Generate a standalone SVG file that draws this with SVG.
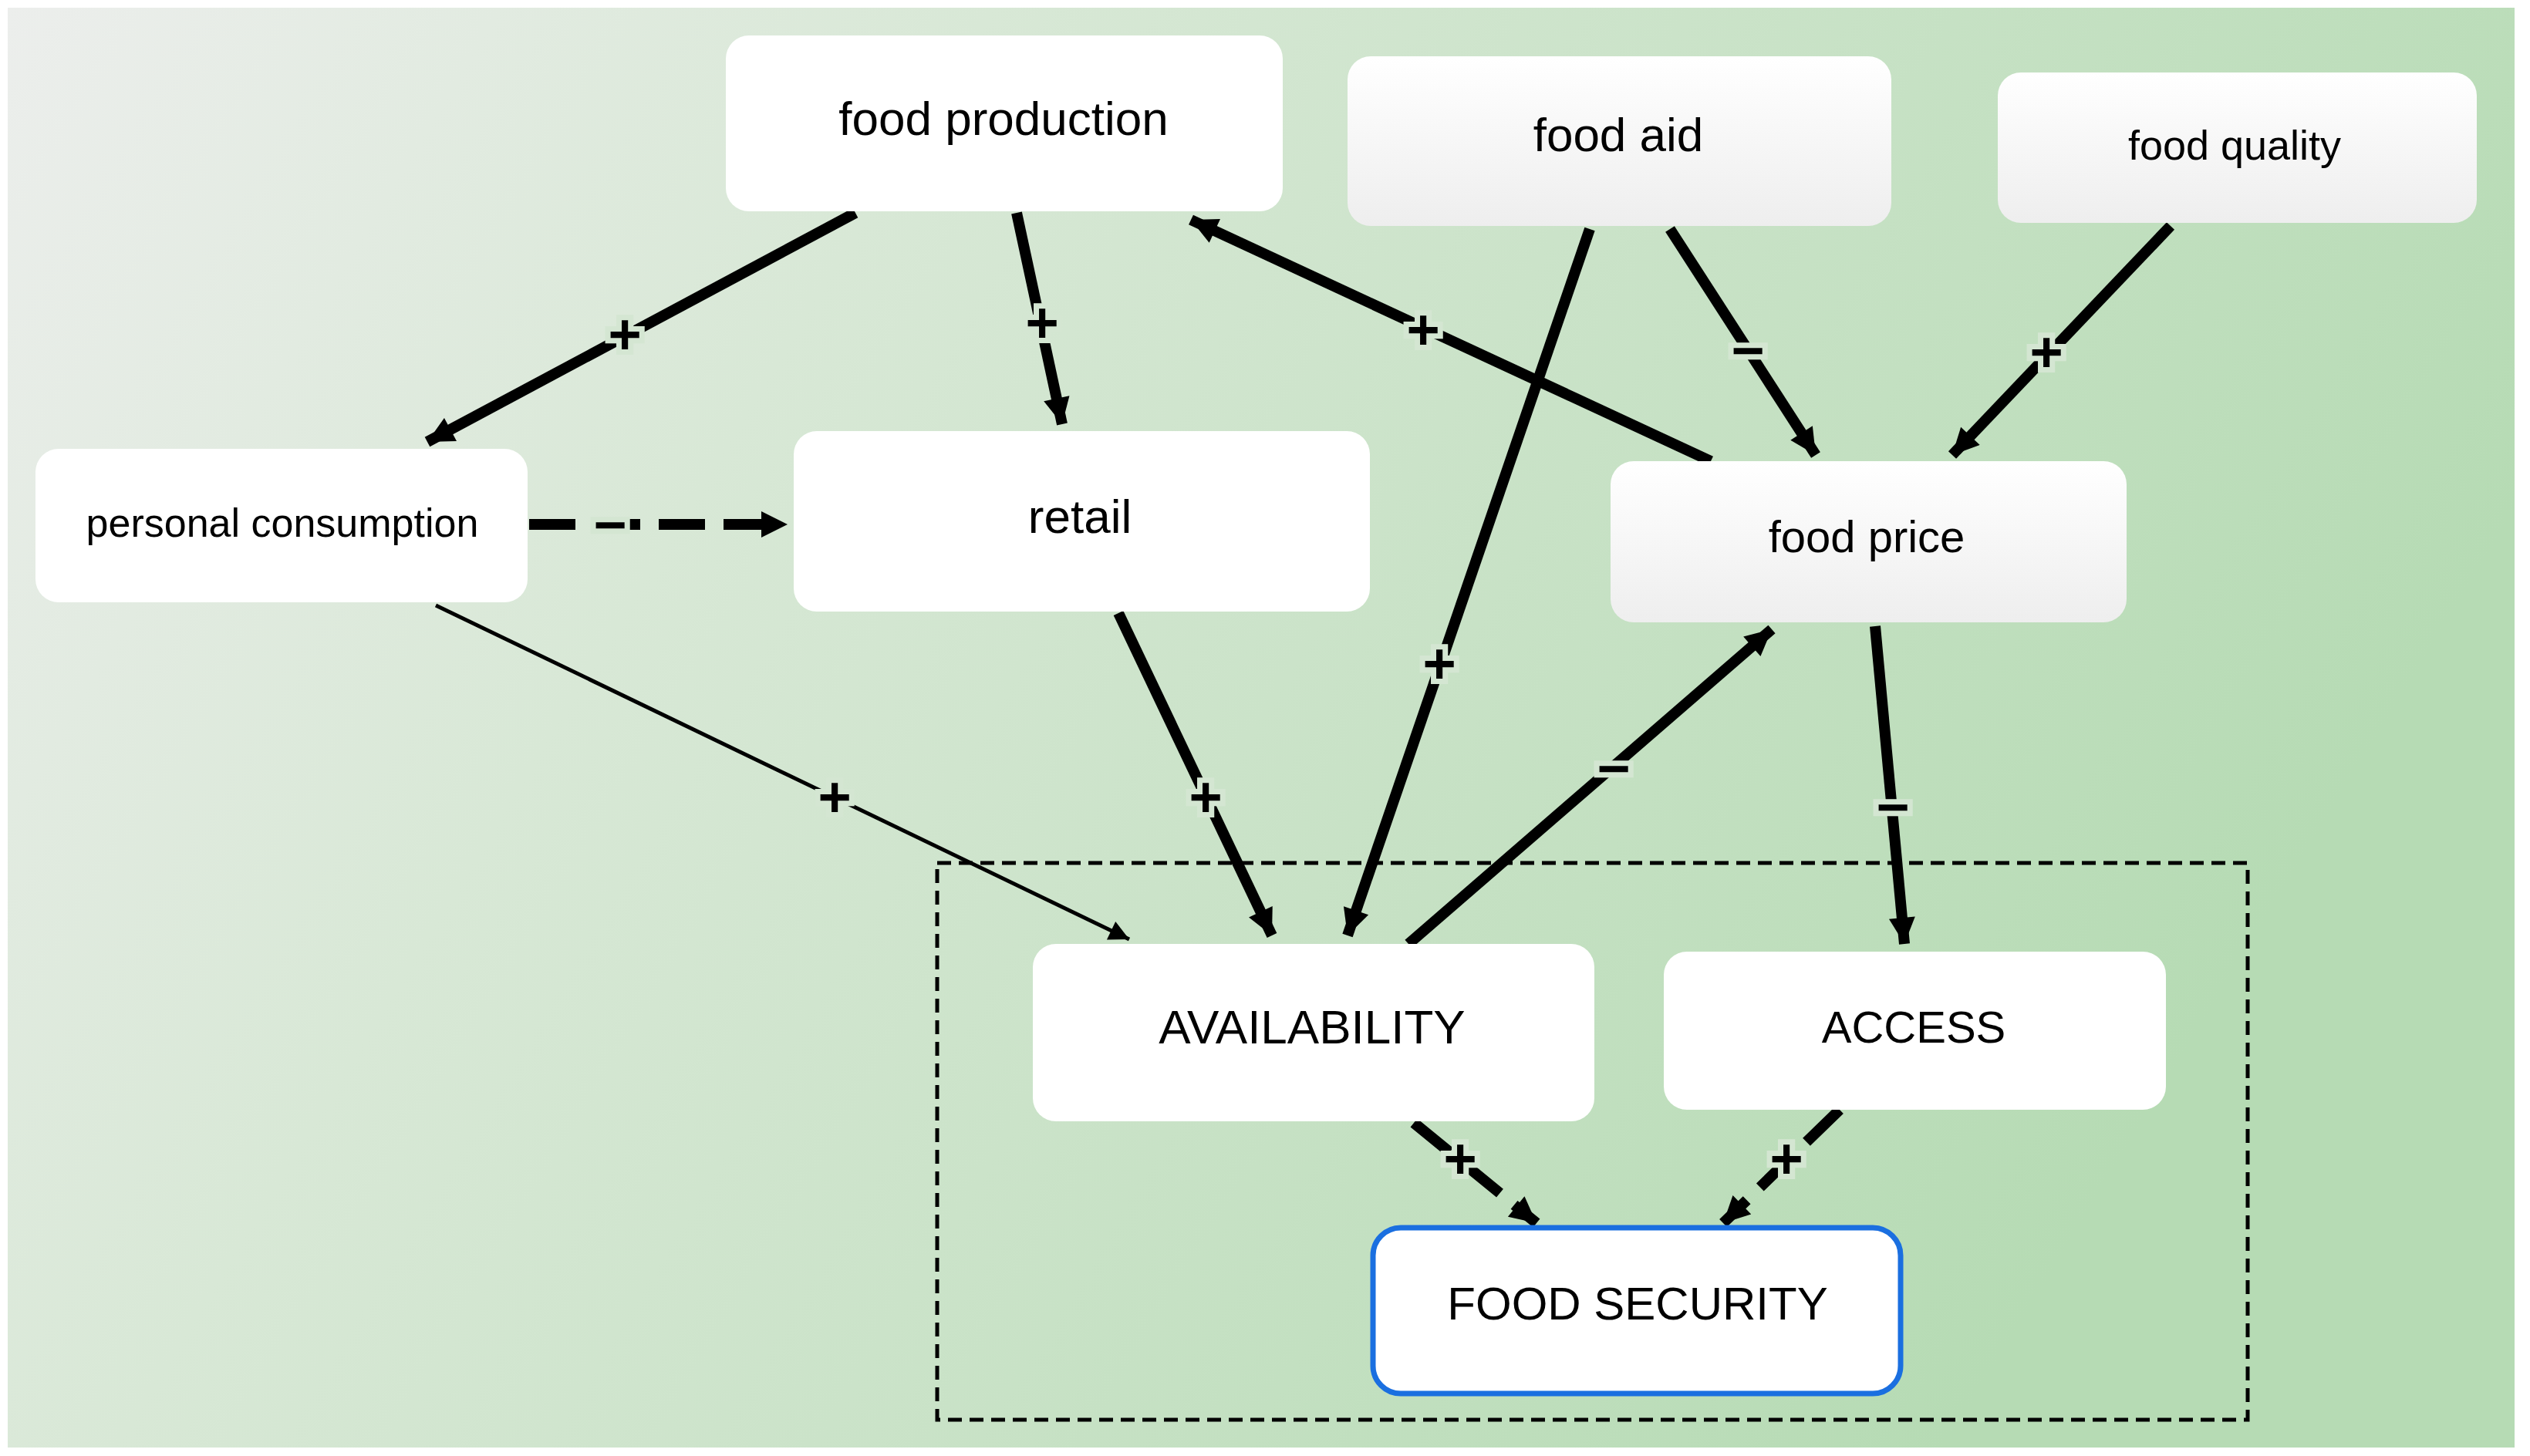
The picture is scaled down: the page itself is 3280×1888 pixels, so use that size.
<svg xmlns="http://www.w3.org/2000/svg" width="3280" height="1888" viewBox="0 0 3280 1888">
<defs>
<linearGradient id="bg" x1="0" y1="0" x2="1" y2="0.35">
<stop offset="0" stop-color="#eceeec"/><stop offset="0.35" stop-color="#d8e8d6"/><stop offset="1" stop-color="#b6dbb4"/>
</linearGradient>
<linearGradient id="gw" x1="0" y1="0" x2="0" y2="1">
<stop offset="0" stop-color="#ffffff"/><stop offset="1" stop-color="#eeeeee"/>
</linearGradient>
<marker id="ah" viewBox="0 0 10 10" refX="10" refY="5" markerWidth="44" markerHeight="34" markerUnits="userSpaceOnUse" orient="auto"><path d="M0,0 L10,5 L0,10 z" fill="#000"/></marker>
<marker id="ahs" viewBox="0 0 10 10" refX="10" refY="5" markerWidth="36" markerHeight="26" markerUnits="userSpaceOnUse" orient="auto"><path d="M0,0 L10,5 L0,10 z" fill="#000"/></marker>
</defs>
<style>
.n{fill:#fff}
.g{fill:url(#gw)}
.t{font-family:"Liberation Sans",Arial,sans-serif;fill:#000;text-anchor:middle;dominant-baseline:central}
.e{stroke:#000;stroke-width:14;fill:none;marker-end:url(#ah)}
.th{stroke:#000;stroke-width:5;fill:none;marker-end:url(#ahs)}
.d{stroke-dasharray:60 24}
.l{font-family:"Liberation Sans",Arial,sans-serif;font-size:74px;font-weight:bold;text-anchor:middle;dominant-baseline:central;fill:#000;stroke:#d4e6d2;stroke-width:14;paint-order:stroke}
</style>
<rect width="3280" height="1888" fill="#fff"/>
<rect x="10" y="10" width="3250" height="1867" fill="url(#bg)"/>
<rect x="1215" y="1119" width="1699" height="722" fill="none" stroke="#000" stroke-width="5" stroke-dasharray="18 10"/>
<g id="connectors">
<line class="e" x1="1109" y1="276" x2="554" y2="573"/>
<line class="e" x1="1318" y1="276" x2="1377" y2="550"/>
<line class="e" x1="2218" y1="598" x2="1544" y2="285"/>
<line class="e" x1="2061" y1="297" x2="1747" y2="1213"/>
<line class="e" x1="2165" y1="297" x2="2354" y2="590"/>
<line class="e" x1="2814" y1="293" x2="2531" y2="590"/>
<line class="e d" x1="686" y1="680" x2="1021" y2="680"/>
<line class="th" x1="565" y1="785" x2="1464" y2="1218"/>
<line class="e" x1="1450" y1="795" x2="1649" y2="1213"/>
<line class="e" x1="1826" y1="1224" x2="2297" y2="816"/>
<line class="e" x1="2431" y1="812" x2="2469" y2="1224"/>
<line class="e d" x1="1833" y1="1456" x2="1992" y2="1586"/>
<line class="e d" x1="2385" y1="1439" x2="2234" y2="1586"/>
<text class="l" x="810" y="433">+</text>
<text class="l" x="1351" y="418">+</text>
<text class="l" x="1845" y="427">+</text>
<text class="l" x="1866" y="860">+</text>
<text class="l" x="2266" y="454">−</text>
<text class="l" x="2653" y="456">+</text>
<text class="l" x="791" y="680">−</text>
<text class="l" x="1082" y="1033">+</text>
<text class="l" x="1563" y="1033">+</text>
<text class="l" x="2092" y="996">−</text>
<text class="l" x="2454" y="1046">−</text>
<text class="l" x="1893" y="1502">+</text>
<text class="l" x="2316" y="1502">+</text>
</g>
<g id="food_production"><rect class="n" x="941" y="46" width="722" height="228" rx="30"/><text class="t" x="1301" y="153" font-size="62">food production</text></g>
<g id="food_aid"><rect class="g" x="1747" y="73" width="705" height="220" rx="30"/><text class="t" x="2098" y="174" font-size="62">food aid</text></g>
<g id="food_quality"><rect class="g" x="2590" y="94" width="621" height="195" rx="30"/><text class="t" x="2897" y="188" font-size="54">food quality</text></g>
<g id="personal_consumption"><rect class="n" x="46" y="582" width="638" height="199" rx="30"/><text class="t" x="366" y="678" font-size="52">personal consumption</text></g>
<g id="retail"><rect class="n" x="1029" y="559" width="747" height="234" rx="30"/><text class="t" x="1400" y="669" font-size="62">retail</text></g>
<g id="food_price"><rect class="g" x="2088" y="598" width="669" height="209" rx="30"/><text class="t" x="2420" y="695" font-size="58">food price</text></g>
<g id="availability"><rect class="n" x="1339" y="1224" width="728" height="230" rx="30"/><text class="t" x="1701" y="1331" font-size="62">AVAILABILITY</text></g>
<g id="access"><rect class="n" x="2157" y="1234" width="651" height="205" rx="30"/><text class="t" x="2481" y="1331" font-size="58">ACCESS</text></g>
<g id="food_security"><rect class="n" x="1780" y="1592" width="684" height="215" rx="36" stroke="#1a6fe0" stroke-width="7"/><text class="t" x="2123" y="1690" font-size="60">FOOD SECURITY</text></g>
</svg>
